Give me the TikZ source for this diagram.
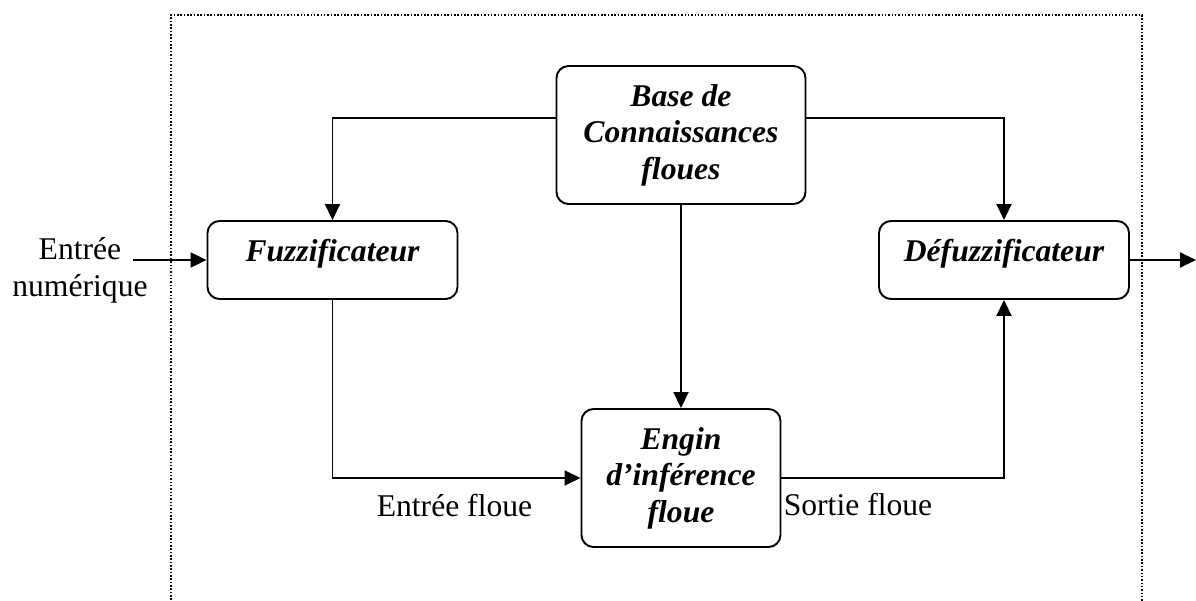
\documentclass[tikz,border=0pt]{standalone}
\usepackage{fontspec}
\setmainfont{Liberation Serif}
\usetikzlibrary{arrows.meta,positioning,calc}
\tikzset{
  fbox/.style={draw=black, rounded corners=.24cm, line width=1.1pt,
    font=\bfseries\itshape\fontsize{18}{20.8}\selectfont, align=center,
    inner sep=2pt},
  fplain/.style={font=\fontsize{18}{20.8}\selectfont, align=center, inner sep=1pt},
  fflow/.style={-{Triangle[length=.32cm, width=.30cm]}, line width=1.1pt,
    draw=black}
}
\begin{document}
\begin{tikzpicture}[
  wide/.style={fbox, minimum width=5.0cm, inner ysep=0pt,
    text height=.82cm, text depth=.74cm},
  tall/.style={fbox, minimum height=2.76cm},
  frame/.style={line width=.9pt, densely dotted, draw=black}
]
\path[use as bounding box] (0,0) rectangle (23.92,12);

\draw[frame] (3.42,-.2) -- (3.42,11.70) -- (22.84,11.70) -- (22.84,-.2);

\node[tall, minimum width=4.98cm] (base) at (13.62,9.30)
  {Base de\\Connaissances\\floues};
\node[wide] (fuzz) at (6.65,6.80) {Fuzzificateur};
\node[wide] (defuzz) at (20.08,6.80) {Défuzzificateur};
\node[tall, minimum width=3.98cm] (engin) at (13.62,2.44)
  {Engin\\d’inférence\\floue};

\node[fplain] (entree) at (1.60,6.59) {Entrée\\numérique};
\node[fplain] (efloue) at (9.09,1.88) {Entrée floue};
\node[fplain] (sfloue) at (17.16,1.90) {Sortie floue};

\coordinate (inpt) at (2.66,6.80);
\coordinate (outpt) at (23.92,6.80);

\draw[fflow] (inpt) -- (fuzz.west);
\draw[fflow] (defuzz.east) -- (outpt);
\draw[fflow] ([yshift=.34cm]base.west) -| (fuzz.north);
\draw[fflow] ([yshift=.34cm]base.east) -| (defuzz.north);
\draw[fflow] (base.south) -- (engin.north);
\draw[fflow] (fuzz.south) |- (engin.west);
\draw[fflow] (engin.east) -| (defuzz.south);
\end{tikzpicture}
\end{document}
